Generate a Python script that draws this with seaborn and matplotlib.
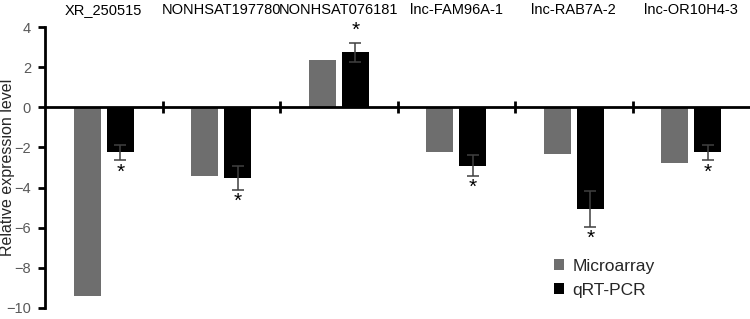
import numpy as np
import pandas as pd
import matplotlib
matplotlib.use("Agg")
import matplotlib.pyplot as plt
import seaborn as sns
from matplotlib.ticker import FixedLocator

genes = ["XR_250515", "NONHSAT197780", "NONHSAT076181",
         "lnc-FAM96A-1", "lnc-RAB7A-2", "lnc-OR10H4-3"]
microarray = [-9.4, -3.4, 2.35, -2.25, -2.35, -2.75]
qpcr = [-2.25, -3.5, 2.75, -2.9, -5.05, -2.25]
qpcr_err = [0.37, 0.6, 0.47, 0.5, 0.9, 0.37]
methods = ["Microarray", "qRT-PCR"]

df = pd.DataFrame({"gene": genes * 2,
                   "value": microarray + qpcr,
                   "method": [methods[0]] * len(genes) + [methods[1]] * len(genes)})

sns.set_style("white")
plt.rcParams["font.family"] = ["Liberation Sans", "DejaVu Sans"]

fig = plt.figure(figsize=(7.5, 3.19), dpi=100)
ax = fig.add_axes([0.06, 0.0345, 0.94, 0.8806])

sns.barplot(data=df, x="gene", y="value", hue="method", order=genes,
            hue_order=methods, palette=["#6e6e6e", "#000000"],
            width=0.56, gap=0.18, errorbar=None, saturation=1,
            linewidth=0, ax=ax)

# error bars + asterisks on qRT-PCR bars
for bar, val, err in zip(ax.containers[1], qpcr, qpcr_err):
    xc = bar.get_x() + bar.get_width() / 2
    ax.errorbar(xc, val, yerr=err, color="#404040", elinewidth=1.1,
                capsize=4, capthick=1.1, fmt="none", zorder=3)
    sign = 1 if val > 0 else -1
    ax.text(xc, val + sign * (err + 0.6), "*", ha="center", va="center",
            fontsize=15, color="black")

ax.set_ylim(-10, 4)
ax.set_xlim(-0.5, 5.5)
ax.set_yticks(np.arange(-10, 5, 2))

for s in ["top", "right"]:
    ax.spines[s].set_visible(False)
ax.spines["bottom"].set_position(("data", 0))
ax.spines["bottom"].set_linewidth(2)
ax.spines["left"].set_linewidth(2)
ax.spines["bottom"].set_color("black")
ax.spines["left"].set_color("black")

ax.xaxis.set_minor_locator(FixedLocator(np.arange(0.5, 5.0, 1.0)))
ax.tick_params(axis="x", which="major", top=True, bottom=False,
               labeltop=True, labelbottom=False, length=0, pad=7,
               labelsize=10.5, labelcolor="black")
ax.tick_params(axis="x", which="minor", bottom=True, direction="inout",
               length=9, width=2, color="black")
ax.tick_params(axis="y", left=True, direction="out", length=5, width=2,
               color="black", labelsize=10.5, labelcolor="#595959", pad=5)
ax.set_xlabel("")
ax.set_ylabel("Relative expression level", fontsize=11.5)
ax.yaxis.set_label_coords(-0.042, 0.5)

ax.legend(loc="upper left", bbox_to_anchor=(0.727, 0.215),
          bbox_transform=fig.transFigure, frameon=False, fontsize=12.5,
          handlelength=0.6, handleheight=0.6, handletextpad=0.45,
          labelspacing=0.5, borderpad=0)

fig.savefig("out.png", dpi=100)
